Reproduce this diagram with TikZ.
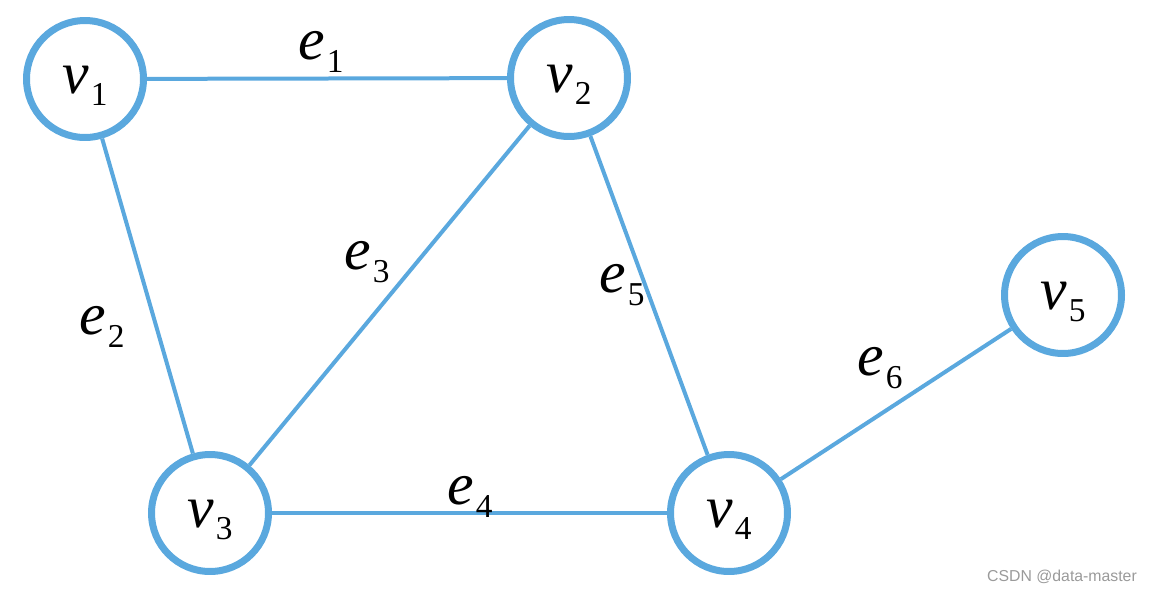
\documentclass[tikz,border=0pt]{standalone}
\usepackage{fontspec}
\setmainfont{Liberation Serif}
\newfontfamily\wmfont{Liberation Sans}
\usetikzlibrary{positioning}
\definecolor{cblue}{HTML}{5AA8DE}
\definecolor{cgrey}{HTML}{9A9A9A}
\newcommand{\lab}[2]{{\fontsize{34}{34}\selectfont\itshape #1}\kern1pt\raisebox{-7pt}{\fontsize{19}{19}\selectfont #2}}
\tikzset{
  vert/.style={circle, draw=cblue, line width=0.14cm, minimum size=2.34cm, inner sep=0pt},
  vtext/.style={inner sep=0pt, yshift=-4pt},
  edge/.style={draw=cblue, line width=0.08cm},
  elab/.style={inner sep=0pt},
  mark text/.style={font=\wmfont\fontsize{9}{9}\selectfont, text=cgrey, anchor=east}
}

\begin{document}
\begin{tikzpicture}[x=0.02cm, y=-0.02cm]
  \useasboundingbox (0,0) rectangle (1152,592);
  % vertices
  \foreach \n/\x/\y in {1/85/79, 2/569/78, 3/210/513, 4/729/513, 5/1063/295} {
    \node[vert] (v\n) at (\x,\y) {};
    \node[vtext] (t\n) at (v\n) {\lab{v}{\n}};
  }
  % edges
  \draw[edge] (v1) -- (v2);
  \draw[edge] (v1) -- (v3);
  \draw[edge] (v2) -- (v3);
  \draw[edge] (v3) -- (v4);
  \draw[edge] (v2) -- (v4);
  \draw[edge] (v4) -- (v5);
  % edge labels
  \foreach \n/\x/\y in {1/321/52, 2/102/327, 3/367/262, 4/470/497, 5/622/285, 6/880/368}
    \node[elab] (e\n) at (\x,\y) {\lab{e}{\n}};
  % watermark
  \node[mark text] (wm) at (1143,577) {CSDN @data-master};
\end{tikzpicture}
\end{document}
